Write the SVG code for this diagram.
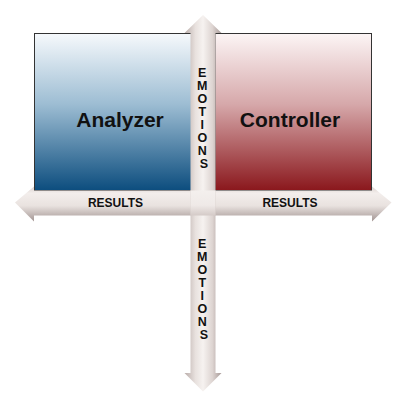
<svg xmlns="http://www.w3.org/2000/svg" width="405" height="405" viewBox="0 0 405 405">
  <defs>
    <linearGradient id="blueGrad" x1="0" y1="0" x2="0" y2="1">
      <stop offset="0" stop-color="#f6f9fc"/>
      <stop offset="0.45" stop-color="#9dbdd3"/>
      <stop offset="1" stop-color="#0c4d7e"/>
    </linearGradient>
    <linearGradient id="redGrad" x1="0" y1="0" x2="0" y2="1">
      <stop offset="0" stop-color="#fcf5f5"/>
      <stop offset="0.45" stop-color="#d6a8aa"/>
      <stop offset="1" stop-color="#8a171c"/>
    </linearGradient>
    <linearGradient id="hArrowGrad" gradientUnits="userSpaceOnUse" x1="0" y1="186" x2="0" y2="222">
      <stop offset="0" stop-color="#d9cfcc"/>
      <stop offset="0.2" stop-color="#f3eeec"/>
      <stop offset="0.55" stop-color="#e9e2df"/>
      <stop offset="1" stop-color="#a09290"/>
    </linearGradient>
    <linearGradient id="vArrowGrad" gradientUnits="userSpaceOnUse" x1="184" y1="0" x2="222" y2="0">
      <stop offset="0" stop-color="#b7aaa7"/>
      <stop offset="0.3" stop-color="#e8e1de"/>
      <stop offset="0.5" stop-color="#f6f2f0"/>
      <stop offset="0.75" stop-color="#ddd4d1"/>
      <stop offset="1" stop-color="#a39593"/>
    </linearGradient>
    <linearGradient id="crossGrad" gradientUnits="userSpaceOnUse" x1="0" y1="190" x2="0" y2="215.5">
      <stop offset="0" stop-color="#f4f0ee"/>
      <stop offset="0.6" stop-color="#efe9e7"/>
      <stop offset="1" stop-color="#d4cac7"/>
    </linearGradient>
  </defs>
  <style>
    .box { stroke: #333333; stroke-width: 1; }
    .title { font-family: "Liberation Sans", Arial, sans-serif; font-weight: bold; font-size: 21px; fill: #111111; text-anchor: middle; }
    .lbl { font-family: "Liberation Sans", Arial, sans-serif; font-weight: bold; font-size: 12px; fill: #111111; text-anchor: middle; }
    .vlbl { font-size: 12.5px; }
  </style>

  <g id="analyzer">
    <rect class="box" x="34.5" y="33.5" width="157" height="157" fill="url(#blueGrad)"/>
    <text class="title" x="120" y="127">Analyzer</text>
  </g>
  <g id="controller">
    <rect class="box" x="215" y="33.5" width="156.5" height="157" fill="url(#redGrad)"/>
    <text class="title" x="290" y="127">Controller</text>
  </g>

  <g id="connectors">
    <g id="results-axis">
      <polygon points="15,202.5 34,186.5 34,190.5 372,190.5 372,186.5 391.5,202.5 372,221.5 372,215.5 34,215.5 34,221.5" fill="url(#hArrowGrad)"/>
    </g>
    <g id="emotions-axis">
      <polygon points="203,15 221.5,33 215.5,33 215.5,373 221.5,373 203,391.5 184.5,373 190.5,373 190.5,33 184.5,33" fill="url(#vArrowGrad)"/>
      <rect x="190.5" y="190.5" width="25" height="25" fill="url(#crossGrad)"/>
    </g>
    <g id="labels">
      <text class="lbl" x="115.5" y="207.3">RESULTS</text>
      <text class="lbl" x="290" y="207.3">RESULTS</text>
      <text class="lbl vlbl" x="204">
        <tspan x="204" y="77">E</tspan>
        <tspan x="204" y="90">M</tspan>
        <tspan x="204" y="103">O</tspan>
        <tspan x="204" y="116">T</tspan>
        <tspan x="204" y="129">I</tspan>
        <tspan x="204" y="142">O</tspan>
        <tspan x="204" y="155">N</tspan>
        <tspan x="204" y="168">S</tspan>
      </text>
      <text class="lbl vlbl" x="204">
        <tspan x="204" y="248">E</tspan>
        <tspan x="204" y="261">M</tspan>
        <tspan x="204" y="274">O</tspan>
        <tspan x="204" y="287">T</tspan>
        <tspan x="204" y="300">I</tspan>
        <tspan x="204" y="313">O</tspan>
        <tspan x="204" y="326">N</tspan>
        <tspan x="204" y="339">S</tspan>
      </text>
    </g>
  </g>
</svg>
